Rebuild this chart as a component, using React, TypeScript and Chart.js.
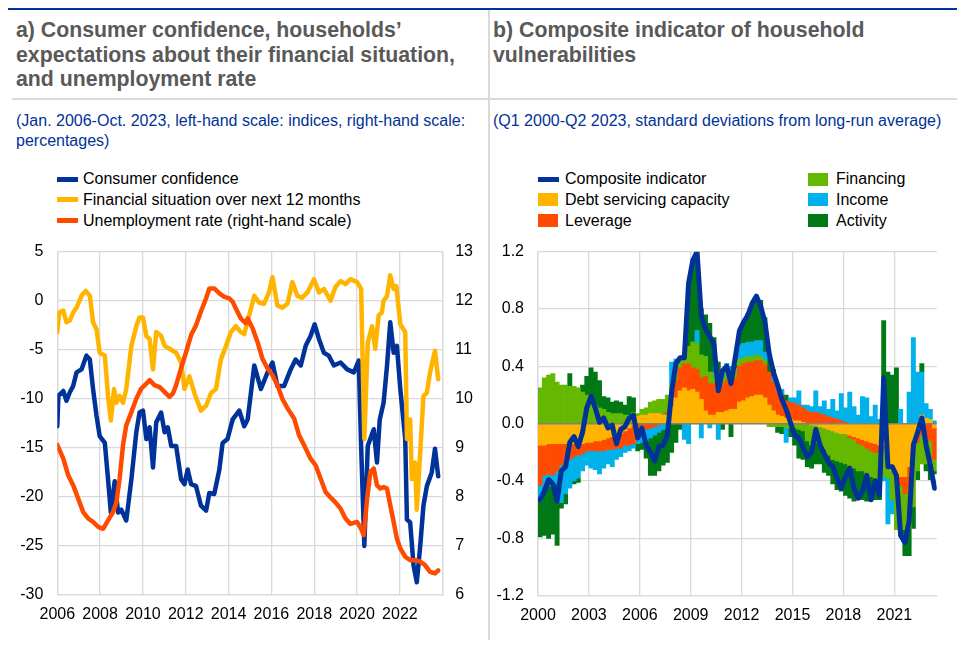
import React, { useEffect, useRef } from 'react';
import { Chart, registerables } from 'chart.js';
Chart.register(...registerables);

const FONT = '"Liberation Sans", Arial, Helvetica, sans-serif';
const BLUE = '#003299';
const YELLOW = '#ffb400';
const ORANGE = '#ff4b00';
const LGREEN = '#65b800';
const LBLUE = '#00b1ea';
const DGREEN = '#007816';
const GRID = '#d9d9d9';

// ---------- Panel a) : [decimal year, value] ----------
const CONSUMER_CONFIDENCE: [number, number][] = [
  [2006.00,-12.8],[2006.05,-9.7],[2006.28,-9.2],[2006.43,-10.2],[2006.59,-9.3],[2006.74,-8.7],[2006.90,-7.3],
  [2007.13,-7.0],[2007.36,-5.6],[2007.52,-6.0],[2007.67,-9.0],[2007.83,-11.7],[2007.98,-13.8],[2008.22,-14.5],
  [2008.37,-18.2],[2008.50,-21.6],[2008.68,-18.4],[2008.84,-21.6],[2008.99,-21.3],[2009.22,-22.4],[2009.46,-18.2],
  [2009.69,-13.4],[2009.84,-11.4],[2010.00,-11.2],[2010.16,-14.1],[2010.31,-12.9],[2010.47,-17.0],[2010.62,-12.4],
  [2010.85,-11.4],[2011.01,-13.4],[2011.16,-12.9],[2011.32,-14.8],[2011.55,-14.8],[2011.78,-18.2],[2011.94,-18.7],
  [2012.09,-17.2],[2012.25,-18.7],[2012.48,-18.9],[2012.71,-20.9],[2012.95,-21.4],[2013.10,-19.6],[2013.33,-19.7],
  [2013.57,-17.2],[2013.72,-14.5],[2013.95,-14.1],[2014.19,-12.1],[2014.50,-11.2],[2014.73,-12.8],[2014.89,-12.1],
  [2015.20,-6.6],[2015.51,-9.0],[2015.82,-7.3],[2016.05,-6.3],[2016.28,-8.7],[2016.59,-8.7],[2016.90,-7.0],
  [2017.13,-6.0],[2017.37,-6.6],[2017.60,-4.6],[2017.83,-3.6],[2018.02,-2.4],[2018.22,-3.9],[2018.45,-5.3],
  [2018.68,-5.6],[2018.92,-6.6],[2019.23,-6.3],[2019.54,-7.0],[2019.85,-7.3],[2020.08,-6.1],[2020.19,-14.8],
  [2020.34,-25.0],[2020.50,-14.8],[2020.78,-13.1],[2020.93,-16.5],[2021.06,-12.1],[2021.24,-10.4],[2021.40,-6.6],
  [2021.55,-2.2],[2021.71,-5.3],[2021.86,-4.6],[2022.02,-9.0],[2022.25,-14.1],[2022.33,-22.3],[2022.48,-22.6],
  [2022.64,-27.0],[2022.79,-28.7],[2022.95,-25.0],[2023.10,-20.9],[2023.26,-18.9],[2023.49,-17.5],[2023.64,-15.1],
  [2023.79,-17.9]
];

const FINANCIAL_SITUATION: [number, number][] = [
  [2006.00,-3.2],[2006.09,-1.2],[2006.28,-1.0],[2006.43,-2.2],[2006.59,-2.0],[2006.74,-1.2],[2006.90,-0.7],
  [2007.13,0.5],[2007.33,1.0],[2007.52,0.5],[2007.67,-2.2],[2007.83,-2.9],[2007.98,-5.3],[2008.22,-5.6],
  [2008.37,-9.7],[2008.50,-12.2],[2008.65,-9.0],[2008.76,-10.4],[2008.91,-9.7],[2009.07,-10.4],[2009.22,-9.0],
  [2009.46,-4.6],[2009.69,-2.6],[2009.84,-1.7],[2010.00,-1.7],[2010.16,-3.6],[2010.31,-3.9],[2010.47,-7.0],
  [2010.62,-3.2],[2010.85,-3.6],[2011.01,-4.6],[2011.24,-4.9],[2011.55,-5.3],[2011.78,-6.3],[2011.94,-9.0],
  [2012.17,-7.7],[2012.40,-9.4],[2012.71,-11.2],[2012.95,-10.7],[2013.18,-9.4],[2013.41,-9.0],[2013.64,-6.0],
  [2013.88,-4.6],[2014.11,-3.2],[2014.34,-2.6],[2014.57,-3.2],[2014.73,-3.4],[2014.96,-1.5],[2015.20,0.5],
  [2015.43,-0.2],[2015.66,-0.3],[2015.89,0.85],[2016.05,2.4],[2016.28,-0.5],[2016.51,-0.7],[2016.75,-0.3],
  [2016.98,1.9],[2017.21,0.5],[2017.44,0.3],[2017.68,0.85],[2017.99,2.2],[2018.22,0.85],[2018.45,1.2],
  [2018.76,0.0],[2018.99,1.4],[2019.23,2.0],[2019.46,1.7],[2019.69,2.2],[2020.00,1.9],[2020.19,1.2],
  [2020.34,-14.1],[2020.50,-4.3],[2020.70,-2.6],[2020.85,-4.9],[2021.01,-1.5],[2021.16,-1.2],[2021.24,0.0],
  [2021.40,0.5],[2021.55,2.6],[2021.71,1.2],[2021.83,1.5],[2022.02,-2.4],[2022.25,-3.2],[2022.33,-14.1],
  [2022.48,-12.1],[2022.56,-18.2],[2022.71,-16.5],[2022.79,-21.3],[2022.95,-15.5],[2023.10,-9.7],[2023.26,-9.4],
  [2023.41,-7.3],[2023.64,-5.1],[2023.79,-8.0]
];

const UNEMPLOYMENT: [number, number][] = [
  [2006.00,9.06],[2006.28,8.78],[2006.51,8.44],[2006.74,8.24],[2006.98,7.96],[2007.21,7.69],[2007.44,7.56],
  [2007.67,7.49],[2007.91,7.39],[2008.14,7.35],[2008.37,7.52],[2008.60,7.69],[2008.76,7.89],[2008.91,8.37],
  [2009.07,9.06],[2009.22,9.46],[2009.46,9.73],[2009.69,10.0],[2009.92,10.21],[2010.16,10.31],[2010.31,10.38],
  [2010.54,10.28],[2010.78,10.24],[2011.01,10.14],[2011.24,10.04],[2011.40,10.11],[2011.55,10.28],[2011.78,10.62],
  [2012.02,10.96],[2012.25,11.3],[2012.48,11.5],[2012.71,11.78],[2012.95,12.05],[2013.10,12.25],[2013.33,12.25],
  [2013.57,12.15],[2013.80,12.08],[2014.03,12.05],[2014.19,11.98],[2014.34,11.84],[2014.57,11.64],[2014.81,11.54],
  [2014.89,11.64],[2015.12,11.44],[2015.35,11.16],[2015.58,10.82],[2015.82,10.62],[2016.05,10.48],[2016.28,10.28],
  [2016.51,10.0],[2016.75,9.81],[2017.06,9.6],[2017.29,9.26],[2017.52,9.06],[2017.83,8.78],[2018.06,8.65],
  [2018.30,8.37],[2018.53,8.1],[2018.76,7.99],[2018.99,7.89],[2019.23,7.76],[2019.46,7.56],[2019.69,7.45],
  [2020.00,7.49],[2020.19,7.35],[2020.31,7.22],[2020.47,7.96],[2020.62,8.51],[2020.78,8.58],[2020.93,8.24],
  [2021.09,8.17],[2021.24,8.2],[2021.40,8.17],[2021.55,7.83],[2021.71,7.49],[2021.86,7.15],[2022.02,6.95],
  [2022.25,6.78],[2022.48,6.71],[2022.71,6.71],[2022.95,6.68],[2023.18,6.61],[2023.41,6.47],[2023.64,6.44],
  [2023.79,6.5]
];

const LEFT_Y_TICKS = { min: -30, max: 5, step: 5 };
const RIGHT_Y_TICKS = { min: 6, max: 13, step: 1 };
const LEFT_X_TICKS = { min: 2006, max: 2024, step: 2 };

// ---------- Panel b) : quarterly, Q1 2000 - Q2 2023 ----------
const FIRST_YEAR = 2000;
const N_QUARTERS = 94;
const QUARTERS = Array.from({ length: N_QUARTERS }, (_, k) => FIRST_YEAR + k / 4 + 0.125);

const DEBT_SERVICING = [
  -0.15,-0.15,-0.14,-0.14,-0.14,-0.14,-0.14,-0.14,-0.14,-0.14,
  -0.14,-0.13,-0.13,-0.12,-0.12,-0.11,-0.10,-0.09,-0.08,-0.07,
  -0.05,-0.03,-0.01,0.05,0.06,0.06,0.07,0.07,0.07,0.06,
  0.06,0.12,0.18,0.23,0.25,0.23,0.24,0.22,0.17,0.09,
  0.06,0.06,0.08,0.08,0.09,0.10,0.10,0.15,0.16,0.18,
  0.19,0.20,0.20,0.18,0.13,0.09,0.06,0.05,0.04,0.03,
  0.02,0.02,0.01,0.00,-0.01,-0.01,-0.02,-0.03,-0.04,-0.05,
  -0.06,-0.07,-0.07,-0.08,-0.09,-0.10,-0.11,-0.12,-0.13,-0.14,
  -0.15,-0.15,-0.30,-0.33,-0.36,-0.37,-0.37,-0.30,-0.12,-0.05,
  0.06,0.04,0.03,-0.03
];
const LEVERAGE = [
  -0.28,-0.21,-0.21,-0.22,-0.19,-0.15,-0.13,-0.11,-0.09,-0.08,
  -0.07,-0.06,-0.06,-0.07,-0.07,-0.08,-0.08,-0.09,-0.09,-0.10,
  -0.10,-0.12,-0.13,-0.06,-0.05,-0.04,-0.03,-0.02,-0.01,0.00,
  0.02,0.10,0.12,0.16,0.17,0.19,0.15,0.16,0.15,0.24,
  0.22,0.22,0.20,0.20,0.21,0.22,0.22,0.25,0.26,0.25,
  0.24,0.24,0.24,0.23,0.23,0.20,0.16,0.15,0.12,0.12,
  0.12,0.11,0.10,0.09,0.08,0.08,0.07,0.06,0.05,0.04,
  0.03,0.02,0.01,-0.02,-0.02,-0.04,-0.04,-0.05,-0.06,-0.06,
  -0.05,-0.02,0.00,0.00,-0.02,-0.06,-0.12,-0.15,-0.08,-0.08,
  -0.08,-0.10,-0.12,-0.22
];
const FINANCING = [
  0.25,0.32,0.34,0.35,0.29,0.27,0.27,0.26,0.26,0.25,
  0.22,0.20,0.17,0.13,0.11,0.10,0.08,0.07,0.07,0.07,
  0.06,0.06,0.08,0.02,0.04,0.05,0.08,0.09,0.10,0.11,
  0.12,0.05,0.06,0.05,0.06,0.12,0.18,0.18,0.16,0.14,
  0.08,0.06,0.05,0.04,0.05,0.06,0.05,0.05,0.04,0.04,
  0.04,0.04,0.03,0.03,-0.02,-0.02,-0.02,-0.02,-0.03,-0.03,
  -0.03,-0.04,-0.05,-0.12,-0.14,-0.12,-0.12,-0.15,-0.18,-0.20,
  -0.20,-0.20,-0.21,-0.20,-0.20,-0.19,-0.18,-0.19,-0.18,-0.18,
  -0.20,-0.20,-0.08,-0.20,-0.36,-0.31,-0.25,-0.28,-0.38,-0.20,
  -0.20,-0.18,-0.16,-0.08
];
const INCOME = [
  -0.11,-0.09,-0.08,-0.08,-0.09,-0.26,-0.22,-0.20,-0.17,-0.16,
  -0.12,-0.10,-0.12,-0.13,-0.16,-0.12,-0.10,-0.12,-0.08,-0.06,
  -0.05,-0.04,-0.03,-0.08,-0.08,-0.08,-0.07,-0.06,-0.05,-0.04,
  -0.02,0.16,0.09,0.02,-0.11,-0.14,0.00,0.09,-0.10,0.00,
  -0.03,0.02,-0.11,0.05,0.07,0.02,0.02,0.10,0.10,0.10,
  0.10,0.10,0.11,0.06,0.00,0.04,0.04,0.04,-0.10,0.03,
  0.04,0.10,0.02,0.04,0.04,0.15,0.05,0.10,0.05,0.13,
  0.06,0.19,0.10,0.22,0.12,0.06,0.19,0.18,0.05,0.13,
  0.03,-0.03,-0.32,-0.10,0.00,0.10,0.00,0.22,0.60,0.36,
  0.30,0.10,0.07,0.02
];
const ACTIVITY = [
  -0.25,-0.33,-0.37,-0.33,-0.43,-0.04,-0.07,0.09,-0.02,-0.03,
  0.05,0.13,0.22,0.23,0.19,0.09,0.10,0.08,0.09,0.08,
  0.07,0.13,0.10,-0.05,-0.05,-0.12,-0.26,-0.28,-0.27,-0.25,
  -0.25,-0.20,-0.13,-0.04,0.00,0.40,0.55,0.50,0.32,0.29,
  0.34,0.24,0.10,-0.04,0.00,-0.09,0.02,0.10,0.15,0.20,
  0.25,0.30,0.28,0.24,0.12,0.05,-0.04,-0.05,0.04,-0.06,
  -0.12,-0.20,-0.20,-0.18,-0.16,-0.15,-0.14,-0.16,-0.14,-0.17,
  -0.20,-0.20,-0.22,-0.22,-0.23,-0.20,-0.20,-0.18,-0.17,-0.15,
  -0.13,0.72,0.36,0.34,0.39,0.00,-0.18,-0.19,-0.15,-0.06,
  0.06,-0.05,-0.11,-0.02
];
const COMPOSITE = [
  -0.53,-0.47,-0.39,-0.42,-0.54,-0.33,-0.30,-0.13,-0.09,-0.16,
  -0.06,0.11,0.19,0.11,0.01,0.04,-0.03,-0.01,-0.14,-0.04,
  -0.02,0.04,0.06,-0.10,-0.03,-0.15,-0.20,-0.26,-0.16,-0.15,
  -0.08,0.22,0.42,0.46,0.46,0.98,1.14,1.20,0.75,0.66,
  0.61,0.55,0.23,0.37,0.40,0.28,0.46,0.65,0.71,0.76,
  0.84,0.89,0.82,0.71,0.49,0.36,0.27,0.17,0.10,0.01,
  -0.08,-0.10,-0.17,-0.23,-0.20,-0.04,-0.15,-0.21,-0.27,-0.30,
  -0.38,-0.45,-0.37,-0.31,-0.45,-0.52,-0.47,-0.36,-0.53,-0.40,
  -0.50,0.32,-0.30,-0.30,-0.36,-0.78,-0.83,-0.68,-0.15,-0.06,
  0.04,-0.15,-0.29,-0.45
];

const B_Y_TICKS = { min: -1.2, max: 1.2, step: 0.4 };
const B_X_TICKS = { min: 2000, max: 2023.5, step: 3 };

const pts = (arr: [number, number][]) => arr.map(([x, y]) => ({ x, y }));
const qpts = (vals: number[]) => vals.map((y, i) => ({ x: QUARTERS[i], y }));

const tickFont = { family: FONT, size: 16 };

const zeroLinePlugin = {
  id: 'zeroLine',
  beforeDatasetDraw(chart: any, args: any) {
    if (args.index !== 5) return;
    const y = chart.scales.y.getPixelForValue(0);
    const { left, right } = chart.chartArea;
    const ctx = chart.ctx;
    ctx.save();
    ctx.strokeStyle = '#808080';
    ctx.lineWidth = 1.5;
    ctx.beginPath();
    ctx.moveTo(left, y);
    ctx.lineTo(right, y);
    ctx.stroke();
    ctx.restore();
  },
};

const fixY = (w: number) => (s: any) => { s.width = w; s.paddingTop = 0; s.paddingBottom = 0; };

export default function App() {
  const leftRef = useRef<HTMLCanvasElement>(null);
  const rightRef = useRef<HTMLCanvasElement>(null);

  useEffect(() => {
    Chart.defaults.font.family = FONT;
    Chart.defaults.color = '#000';

    const left = new Chart(leftRef.current as HTMLCanvasElement, {
      type: 'line',
      data: {
        datasets: [
          { label: 'Consumer confidence', data: pts(CONSUMER_CONFIDENCE), borderColor: BLUE, borderWidth: 4.5, pointRadius: 0, yAxisID: 'y', order: 2, borderJoinStyle: 'round', borderCapStyle: 'round' },
          { label: 'Financial situation over next 12 months', data: pts(FINANCIAL_SITUATION), borderColor: YELLOW, borderWidth: 4.5, pointRadius: 0, yAxisID: 'y', order: 1, borderJoinStyle: 'round', borderCapStyle: 'round' },
          { label: 'Unemployment rate (right-hand scale)', data: pts(UNEMPLOYMENT), borderColor: ORANGE, borderWidth: 4.5, pointRadius: 0, yAxisID: 'y1', order: 0, borderJoinStyle: 'round', borderCapStyle: 'round' },
        ],
      } as any,
      options: {
        responsive: false,
        animation: false,
        events: [],
        layout: { padding: { top: 16.7, left: 0, right: 0, bottom: 0 } },
        plugins: { legend: { display: false }, tooltip: { enabled: false }, title: { display: false } },
        scales: {
          x: {
            type: 'linear', min: LEFT_X_TICKS.min, max: LEFT_X_TICKS.max,
            ticks: { stepSize: LEFT_X_TICKS.step, font: tickFont, color: '#000', padding: 10, maxRotation: 0, autoSkip: false, includeBounds: false,
              callback: (v: any) => (v === LEFT_X_TICKS.max ? '' : String(v)) },
            grid: { color: GRID, lineWidth: 1.3, drawTicks: false },
            border: { color: GRID, width: 1.3 },
            afterFit: (s: any) => { s.height = 45; },
          },
          y: {
            position: 'left', min: LEFT_Y_TICKS.min, max: LEFT_Y_TICKS.max,
            ticks: { stepSize: LEFT_Y_TICKS.step, font: tickFont, color: '#000', padding: 14, callback: (v: any) => String(v) },
            grid: { color: GRID, lineWidth: 1.3, drawTicks: false },
            border: { color: GRID, width: 1.3 },
            afterFit: fixY(49.3),
          },
          y1: {
            position: 'right', min: RIGHT_Y_TICKS.min, max: RIGHT_Y_TICKS.max,
            ticks: { stepSize: RIGHT_Y_TICKS.step, font: tickFont, color: '#000', padding: 12.5, callback: (v: any) => String(v) },
            grid: { display: false, drawTicks: false },
            border: { color: GRID, width: 1.3 },
            afterFit: fixY(45.3),
          },
        },
      } as any,
    });

    const barDs = (label: string, vals: number[], color: string) => ({
      type: 'bar', label, data: qpts(vals), backgroundColor: color, borderWidth: 0,
      barPercentage: 1, categoryPercentage: 1, order: 1, stack: 'bars',
    });

    const bTicks: number[] = [];
    for (let v = B_X_TICKS.min; v <= B_X_TICKS.max; v += B_X_TICKS.step) bTicks.push(v);

    const right = new Chart(rightRef.current as HTMLCanvasElement, {
      type: 'bar',
      data: {
        datasets: [
          barDs('Debt servicing capacity', DEBT_SERVICING, YELLOW),
          barDs('Leverage', LEVERAGE, ORANGE),
          barDs('Financing', FINANCING, LGREEN),
          barDs('Income', INCOME, LBLUE),
          barDs('Activity', ACTIVITY, DGREEN),
          { type: 'line', label: 'Composite indicator', data: qpts(COMPOSITE), borderColor: BLUE, borderWidth: 5, pointRadius: 0, order: 0, stack: 'composite', borderJoinStyle: 'round', borderCapStyle: 'round' },
        ],
      } as any,
      options: {
        responsive: false,
        animation: false,
        events: [],
        layout: { padding: { top: 16.7, left: 0, right: 28.3, bottom: 0 } },
        plugins: { legend: { display: false }, tooltip: { enabled: false }, title: { display: false } },
        scales: {
          x: {
            type: 'linear', min: B_X_TICKS.min, max: B_X_TICKS.max, stacked: true, offset: false,
            ticks: { font: tickFont, color: '#000', padding: 10, maxRotation: 0, autoSkip: false,
              callback: (v: any) => String(v) },
            afterBuildTicks: (s: any) => { s.ticks = bTicks.map((value) => ({ value })); },
            grid: { color: GRID, lineWidth: 1.3, drawTicks: false, offset: false },
            border: { color: GRID, width: 1.3 },
            afterFit: (s: any) => { s.height = 44.3; },
          },
          y: {
            position: 'left', min: B_Y_TICKS.min, max: B_Y_TICKS.max, stacked: true,
            ticks: { stepSize: B_Y_TICKS.step, font: tickFont, color: '#000', padding: 14, callback: (v: any) => Number(v).toFixed(1) },
            grid: { color: GRID, lineWidth: 1.3, drawTicks: false },
            border: { color: GRID, width: 1.3 },
            afterFit: fixY(49),
          },
        },
      } as any,
      plugins: [zeroLinePlugin],
    });

    return () => { left.destroy(); right.destroy(); };
  }, []);

  const titleStyle: React.CSSProperties = { position: 'absolute', top: 10, fontSize: 21.3, fontWeight: 'bold', lineHeight: '24.5px', color: '#595959', whiteSpace: 'nowrap' };
  const subStyle: React.CSSProperties = { position: 'absolute', top: 103, fontSize: 16, lineHeight: '20px', color: BLUE, whiteSpace: 'nowrap' };
  const txt = (left: number, center: number, label: string) => (
    <span style={{ position: 'absolute', left, top: center - 10, fontSize: 16, lineHeight: '20px', color: '#000', whiteSpace: 'nowrap' }}>{label}</span>
  );
  const lineSw = (left: number, center: number, color: string) => (
    <div style={{ position: 'absolute', left, top: center - 2.5, width: 21, height: 5, background: color }} />
  );
  const boxSw = (left: number, center: number, color: string) => (
    <div style={{ position: 'absolute', left, top: center - 6.5, width: 20, height: 13, background: color }} />
  );
  const r1 = 171, r2 = 191.5, r3 = 212.5;

  return (
    <div style={{ position: 'relative', width: 957, height: 632, fontFamily: FONT }}>
      <div style={{ position: 'absolute', left: 0, top: 0, width: 957, height: 2, background: BLUE }} />
      <div style={{ position: 'absolute', left: 480, top: 2, width: 2, height: 630, background: '#dadada' }} />
      <div style={{ position: 'absolute', left: 4, top: 90, width: 953, height: 2, background: '#dadada' }} />

      <div style={{ ...titleStyle, left: 8 }}>
        a) Consumer confidence, households’<br />expectations about their financial situation,<br />and unemployment rate
      </div>
      <div style={{ ...titleStyle, left: 485 }}>
        b) Composite indicator of household<br />vulnerabilities
      </div>
      <div style={{ ...subStyle, left: 8 }}>
        (Jan. 2006-Oct. 2023, left-hand scale: indices, right-hand scale:<br />percentages)
      </div>
      <div style={{ ...subStyle, left: 485 }}>
        (Q1 2000-Q2 2023, standard deviations from long-run average)
      </div>

      {lineSw(49, r1, BLUE)}{txt(75, r1, 'Consumer confidence')}
      {lineSw(49, r2, YELLOW)}{txt(75, r2, 'Financial situation over next 12 months')}
      {lineSw(49, r3, ORANGE)}{txt(75, r3, 'Unemployment rate (right-hand scale)')}

      {lineSw(530, r1, BLUE)}{txt(557, r1, 'Composite indicator')}
      {boxSw(530, r2, YELLOW)}{txt(557, r2, 'Debt servicing capacity')}
      {boxSw(530, r3, ORANGE)}{txt(557, r3, 'Leverage')}
      {boxSw(800, r1, LGREEN)}{txt(828, r1, 'Financing')}
      {boxSw(800, r2, LBLUE)}{txt(828, r2, 'Income')}
      {boxSw(800, r3, DGREEN)}{txt(828, r3, 'Activity')}

      <canvas ref={leftRef} width={480} height={405} style={{ position: 'absolute', left: 0, top: 227, width: 480, height: 405 }} />
      <canvas ref={rightRef} width={476} height={405} style={{ position: 'absolute', left: 481, top: 227, width: 476, height: 405 }} />
    </div>
  );
}
